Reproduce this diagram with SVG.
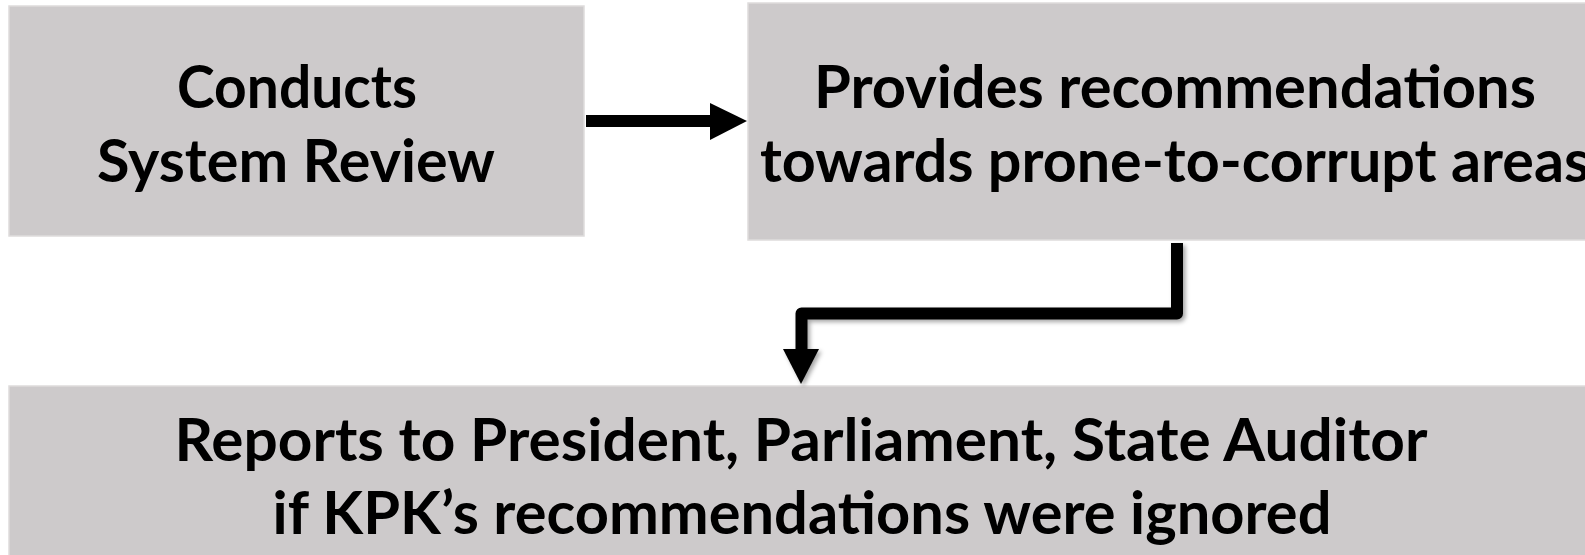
<svg xmlns="http://www.w3.org/2000/svg" width="1585" height="555" viewBox="0 0 1585 555">
<style>
.box{fill:#cdcacb;stroke:#dedcdc;stroke-width:1.5}
.t{font-family:Lato,"Open Sans","Liberation Sans",sans-serif;font-weight:bold;font-size:59px;fill:#000;text-anchor:middle}
.ln{fill:none;stroke:#000;stroke-width:12}
</style>
<defs>
<filter id="sh" x="-10%" y="-10%" width="130%" height="130%">
<feDropShadow dx="2.5" dy="2.5" stdDeviation="2" flood-color="#000" flood-opacity="0.35"/>
</filter>
</defs>
<rect width="1585" height="555" fill="#fff"/>
<g id="node1">
<rect class="box" x="9" y="6" width="575" height="230"/>
<text class="t" x="297" y="108" textLength="240" lengthAdjust="spacingAndGlyphs">Conducts</text>
<text class="t" x="296" y="182" textLength="398" lengthAdjust="spacingAndGlyphs">System Review</text>
</g>
<g id="node2">
<rect class="box" x="748" y="3" width="860" height="237"/>
<text class="t" x="1175" y="108" textLength="722" lengthAdjust="spacingAndGlyphs">Provides recommendations</text>
<text class="t" x="1175" y="182" textLength="830" lengthAdjust="spacingAndGlyphs">towards prone-to-corrupt areas</text>
</g>
<g id="node3">
<rect class="box" x="9" y="386" width="1600" height="180"/>
<text class="t" x="801" y="461" textLength="1253" lengthAdjust="spacingAndGlyphs">Reports to President, Parliament, State Auditor</text>
<text class="t" x="802" y="534" textLength="1059" lengthAdjust="spacingAndGlyphs">if KPK’s recommendations were ignored</text>
</g>
<g id="connectors">
<g id="c1">
<line x1="586" y1="121" x2="713" y2="121" stroke="#000" stroke-width="12"/>
<polygon points="710,103 747,121 710,140" fill="#000"/>
</g>
<g id="c2" filter="url(#sh)">
<path class="ln" d="M1177,243 V313.5 H801.5 V350" stroke-linejoin="round"/>
<polygon points="783,349 819,349 801,384" fill="#000"/>
</g>
</g>
</svg>
